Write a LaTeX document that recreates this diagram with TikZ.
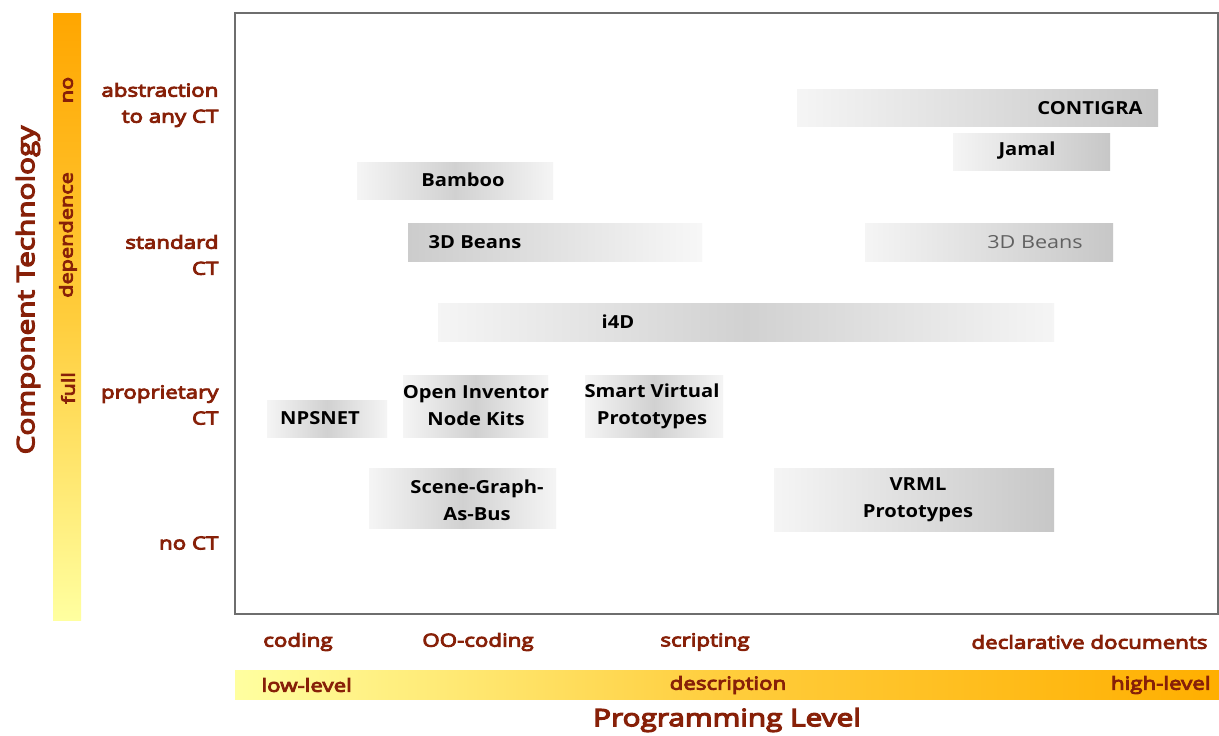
\documentclass[tikz,border=0pt]{standalone}
\usepackage{fontspec}
\setmainfont{Open Sans}
\newfontfamily\widefont[FakeStretch=1.24, FakeBold=5]{Open Sans}
\newfontfamily\widelight[FakeStretch=1.2]{Open Sans}
\newfontfamily\wideheavy[FakeStretch=1.12]{Open Sans Bold}
\definecolor{ctred}{RGB}{135,32,8}
\definecolor{framegray}{RGB}{110,110,110}
\definecolor{barorange}{RGB}{255,166,0}
\definecolor{barmid}{RGB}{255,205,60}
\definecolor{barpale}{RGB}{255,255,160}
\tikzset{
  rowlabel/.style={text=ctred, font=\widefont\fontsize{18}{26}\selectfont, align=right, anchor=east},
  levellabel/.style={text=ctred, font=\widefont\fontsize{18}{22}\selectfont},
  barlabel/.style={text=ctred, font=\widefont\fontsize{17.5}{20}\selectfont, rotate=90},
  toolname/.style={font=\wideheavy\fontsize{18}{27}\selectfont, align=center},
  rise/.style={left color=black!4, right color=black!22},
  fall/.style={left color=black!20, right color=black!3},
  hump/.style={left color=black!4, right color=black!4, middle color=black!18}
}
\begin{document}
\begin{tikzpicture}[x=1pt,y=-1pt]
    \useasboundingbox (0,0) rectangle (1219,736);
    \fill[white] (0,0) rectangle (1219,736);

    % component technology axis
    \shade[top color=barorange, bottom color=barpale, middle color=barmid] (53,13) rectangle (81,620);
    \node[barlabel] (no) at (68,90) {no};
    \node[barlabel] (dep) at (68,235) {dependence};
    \node[barlabel] (full) at (68,388) {full};
    \node[text=ctred, font=\widefont\fontsize{24}{28}\selectfont, rotate=90] (ctaxis) at (28,290) {Component Technology};

    \node[rowlabel] (abstr) at (222,105) {abstraction\\to any CT};
    \node[rowlabel] (std) at (222,255) {standard\\CT};
    \node[rowlabel] (prop) at (222,405) {proprietary\\CT};
    \node[rowlabel] (noct) at (222,543) {no CT};

    % plot area
    \draw[framegray, line width=1.2pt] (235,13) rectangle (1218,614);

    \shade[rise] (797,89) rectangle (1158,126);
    \node[toolname] (contigra) at (1090,108) {CONTIGRA};
    \shade[rise] (953,133) rectangle (1110,170);
    \node[toolname] (jamal) at (1027,151) {Jamal};
    \shade[hump] (357,162) rectangle (553,199);
    \node[toolname] (bamboo) at (463,180) {Bamboo};
    \shade[fall] (408,223) rectangle (702,261);
    \node[toolname] (beansl) at (475,242) {3D Beans};
    \shade[rise] (865,223) rectangle (1113,261);
    \node[font=\widelight\fontsize{18}{22}\selectfont, text=black!62] (beansr) at (1035,242) {3D Beans};
    \shade[hump] (438,303) rectangle (1054,341);
    \node[toolname] (ifourd) at (618,322) {i4D};
    \shade[hump] (267,400) rectangle (387,437);
    \node[toolname] (npsnet) at (320,418) {NPSNET};
    \shade[hump] (403,375) rectangle (548,437);
    \node[toolname] (oinv) at (476,406) {Open Inventor\\Node Kits};
    \shade[hump] (585,375) rectangle (723,437);
    \node[toolname] (svp) at (652,406) {Smart Virtual\\Prototypes};
    \shade[hump] (369,468) rectangle (556,528);
    \node[toolname] (sgab) at (477,500) {Scene-Graph-\\As-Bus};
    \shade[rise] (774,468) rectangle (1054,531);
    \node[toolname] (vrml) at (918,500) {VRML\\Prototypes};

    % programming level axis
    \node[levellabel] (coding) at (298,642) {coding};
    \node[levellabel] (oocoding) at (478,642) {OO-coding};
    \node[levellabel] (scripting) at (705,642) {scripting};
    \node[levellabel, anchor=east] (decl) at (1211,642) {declarative documents};

    \shade[left color=barpale, right color=barorange!90!yellow, middle color=barmid] (235,670) rectangle (1219,699);
    \node[levellabel, anchor=west] (low) at (258,685) {low-level};
    \node[levellabel] (descr) at (728,685) {description};
    \node[levellabel, anchor=east] (high) at (1214,685) {high-level};
    \node[text=ctred, font=\widefont\fontsize{24}{28}\selectfont] (plevel) at (727,720) {Programming Level};
\end{tikzpicture}
\end{document}
